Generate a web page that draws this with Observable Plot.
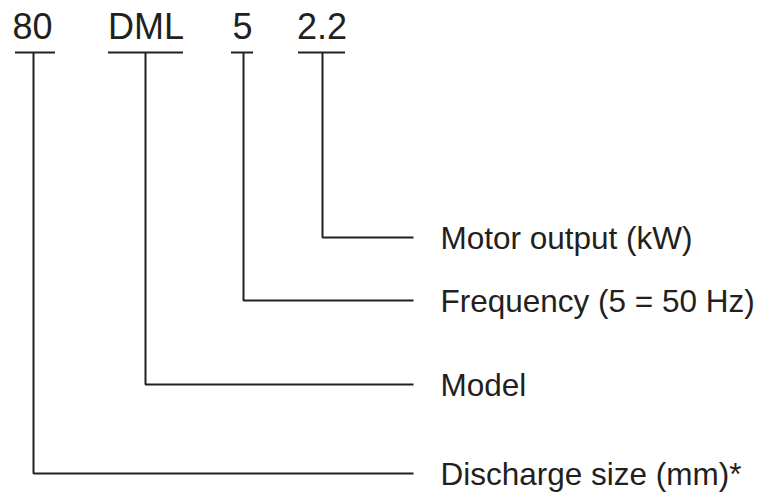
<!DOCTYPE html>
<html>
<head>
<meta charset="utf-8">
<script src="https://cdn.jsdelivr.net/npm/d3@7"></script>
<script src="https://cdn.jsdelivr.net/npm/@observablehq/plot@0.6"></script>
<style>
  html, body { margin: 0; padding: 0; background: #fff; }
  svg { display: block; }
</style>
</head>
<body>
<div id="chart"></div>
<script>
// Content
const codes = ["80", "DML", "5", "2.2"];
const descriptions = ["Discharge size (mm)*", "Model", "Frequency (5 = 50 Hz)", "Motor output (kW)"];

// Layout (pixel coordinates of the diagram)
const codeX = [33, 145, 243, 322];          // vertical leader x for each code
const underlineLeft = [15, 108, 231, 298];
const underlineRight = [55, 183, 253, 345];
const leaderY = [473, 384, 300, 237];       // horizontal leader y for each description
const underlineY = 52;
const leaderEndX = 413;
const descX = 440;

const ink = "#231f20";

const leaders = codes.flatMap((c, i) => [
  {id: c, x: codeX[i], y: underlineY},
  {id: c, x: codeX[i], y: leaderY[i]},
  {id: c, x: leaderEndX, y: leaderY[i]}
]);
const underlines = codes.map((c, i) => ({id: c, x1: underlineLeft[i], x2: underlineRight[i], y: underlineY}));
const codeLabels = codes.map((c, i) => ({text: c, x: (underlineLeft[i] + underlineRight[i]) / 2 - (i === 0 ? 3 : 0), y: 27.4}));
const descLabels = descriptions.map((d, i) => ({text: d, x: descX, y: leaderY[i] + 1}));

const plot = Plot.plot({
  width: 762,
  height: 493,
  margin: 0,
  x: {domain: [0, 762], range: [0, 762], axis: null},
  y: {domain: [0, 493], range: [0, 493], axis: null},
  style: {background: "#fff", fontFamily: "Liberation Sans, Arial, Helvetica, sans-serif"},
  marks: [
    Plot.line(leaders, {x: "x", y: "y", z: "id", stroke: ink, strokeWidth: 2, strokeLinejoin: "miter", strokeLinecap: "butt"}),
    Plot.ruleY(underlines, {x1: "x1", x2: "x2", y: "y", stroke: ink, strokeWidth: 2}),
    Plot.text(codeLabels, {x: "x", y: "y", text: "text", fontSize: 36, fill: ink, textAnchor: "middle"}),
    Plot.text(descLabels, {x: "x", y: "y", text: "text", fontSize: 31.5, fill: ink, textAnchor: "start"})
  ]
});
document.getElementById("chart").appendChild(plot);
</script>
</body>
</html>
